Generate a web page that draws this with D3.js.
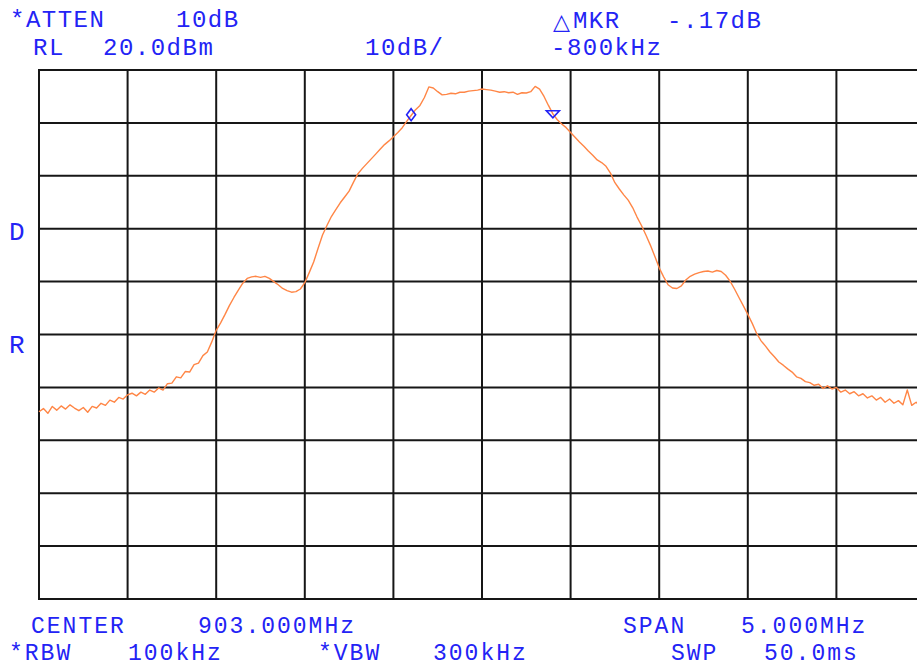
<!DOCTYPE html>
<html>
<head>
<meta charset="utf-8">
<script src="https://cdn.jsdelivr.net/npm/d3@7"></script>
<style>
  html, body { margin: 0; padding: 0; background: #fff; }
  svg { display: block; }
  .ann { font-family: "Liberation Mono", "DejaVu Sans Mono", monospace; font-size: 24px; letter-spacing: 1.5px; fill: #2323f5; }
  .side { font-size: 26px; }
  .foot { font-size: 23px; letter-spacing: 2px; }
  .sym { font-family: "DejaVu Sans", sans-serif; font-size: 22px; letter-spacing: 0; }
</style>
</head>
<body>
<script>
  // analyzer settings
  const centerMHz = 903.0;
  const spanKHz = 5000;
  const refLevel = 20;      // dBm, top graticule line
  const dbPerDiv = 10;
  const divisions = 10;

  // sweep: first bin and bin spacing (kHz from center)
  const sweepStartKHz = -2500;
  const sweepStepKHz = 25;

  // trace levels in dBm
  const traceDbm = [
    -44.6, -44.0, -44.9, -43.6, -44.3, -43.5, -44.1, -43.3, -43.9, -44.4,
    -43.8, -44.7, -43.6, -43.9, -43.0, -43.4, -42.4, -42.8, -41.9, -42.2,
    -41.4, -41.1, -41.6, -40.9, -41.3, -40.5, -40.9, -40.1, -40.5, -39.3,
    -39.2, -38.0, -38.2, -37.0, -37.1, -35.7, -35.4, -34.0, -33.3, -31.4,
    -29.2, -27.8, -26.2, -24.5, -23.0, -21.6, -20.3, -19.4, -19.1, -19.0,
    -19.2, -19.0, -19.4, -20.0, -20.6, -21.3, -21.7, -22.0, -21.9, -21.4,
    -20.2, -18.3, -16.3, -13.7, -11.2, -9.4, -7.7, -6.4, -5.1, -4.0,
    -2.9, -1.2, 0.4, 1.4, 2.3, 3.2, 4.1, 5.0, 5.9, 6.6,
    7.4, 8.2, 9.1, 10.3, 11.4, 12.5, 13.3, 14.8, 16.8, 16.6,
    15.9, 15.3, 15.4, 15.6, 15.5, 15.8, 15.8, 16.0, 16.1, 16.2,
    16.4, 16.3, 16.2, 16.0, 15.8, 15.9, 15.7, 15.8, 15.4, 15.7,
    15.65, 15.9, 16.9, 16.4, 15.0, 13.3, 11.7, 10.6, 9.8, 9.1,
    8.2, 7.3, 6.4, 5.6, 4.7, 3.9, 3.0, 2.5, 1.8, 0.5,
    -1.3, -2.5, -3.6, -4.6, -6.0, -7.8, -9.4, -11.2, -13.1, -15.2,
    -17.4, -19.1, -20.6, -21.2, -21.3, -20.8, -19.7, -19.0, -18.6, -18.3,
    -18.1, -18.0, -18.2, -17.9, -18.1, -18.8, -19.9, -21.4, -23.0, -24.6,
    -26.2, -27.9, -29.8, -31.2, -32.2, -33.3, -34.2, -35.2, -35.8, -36.5,
    -37.1, -38.0, -38.3, -38.9, -39.1, -39.6, -39.4, -40.2, -39.7, -40.3,
    -40.0, -40.9, -40.5, -41.2, -40.8, -41.6, -41.2, -42.0, -41.6, -42.4,
    -41.9, -42.8, -42.2, -43.0, -42.5, -43.3, -40.5, -43.4, -42.8, -43.6,
    -43.2
  ];

  // markers: diamond = active delta marker, triangle = reference
  const markerKHz = [-400, 400];
  const markerDbm = [11.55, 11.72];
  const markerShape = ['diamond', 'triangle'];

  // annotation texts
  const headerTexts = ['*ATTEN', '10dB', 'RL', '20.0dBm', '10dB/', '\u25B3MKR', '-.17dB', '-800kHz'];
  const sideTexts = ['D', 'R'];
  const footerTexts = ['CENTER', '903.000MHz', 'SPAN', '5.000MHz', '*RBW', '100kHz', '*VBW', '300kHz', 'SWP', '50.0ms'];

  const width = 917;
  const height = 667;
  const plot = { left: 39, top: 70, width: 886, height: 529 };

  const x = d3.scaleLinear()
    .domain([-spanKHz / 2, spanKHz / 2])
    .range([plot.left, plot.left + plot.width]);
  const y = d3.scaleLinear()
    .domain([refLevel - dbPerDiv * divisions, refLevel])
    .range([plot.top + plot.height, plot.top]);

  const svg = d3.select('body').append('svg')
    .attr('width', width)
    .attr('height', height);

  // graticule
  const grid = svg.append('g').attr('stroke', '#161616').attr('stroke-width', 2);
  grid.selectAll('line.v')
    .data(d3.range(divisions + 1).map((i) => -spanKHz / 2 + i * spanKHz / divisions))
    .enter().append('line')
    .attr('class', 'v')
    .attr('x1', (d) => x(d)).attr('x2', (d) => x(d))
    .attr('y1', y.range()[1]).attr('y2', y.range()[0]);
  grid.selectAll('line.h')
    .data(d3.range(divisions + 1).map((i) => refLevel - i * dbPerDiv))
    .enter().append('line')
    .attr('class', 'h')
    .attr('x1', x.range()[0] - 1).attr('x2', x.range()[1])
    .attr('y1', (d) => y(d)).attr('y2', (d) => y(d));

  // trace
  const line = d3.line()
    .x((d, i) => x(sweepStartKHz + i * sweepStepKHz))
    .y((d) => y(d));
  svg.append('path')
    .attr('d', line(traceDbm))
    .attr('fill', 'none')
    .attr('stroke', '#ff8646')
    .attr('stroke-width', 1.4)
    .attr('stroke-linejoin', 'round');

  // markers
  const mk = svg.append('g').attr('fill', 'none').attr('stroke', '#2323f5').attr('stroke-width', 1.6);
  markerKHz.forEach((f, i) => {
    const mx = x(f), my = y(markerDbm[i]);
    if (markerShape[i] === 'diamond') {
      mk.append('path').attr('d', `M${mx},${my - 6}L${mx + 4.5},${my}L${mx},${my + 6}L${mx - 4.5},${my}Z`);
    } else {
      mk.append('path').attr('d', `M${mx - 6.5},${my - 3}L${mx + 6.5},${my - 3}L${mx},${my + 4}Z`);
    }
  });

  // annotations
  const headerPos = [[10, 27], [176, 27], [33, 55], [103, 55], [365, 55], [553, 28], [667, 28], [551, 55]];
  const sidePos = [[9, 240], [9, 353]];
  const footerPos = [[31, 633], [198, 633], [623, 633], [741, 633], [9, 660], [128, 660], [318, 660], [433, 660], [671, 660], [764, 660]];

  const addTexts = (texts, pos, cls) => {
    const t = svg.append('g').selectAll('text')
      .data(texts)
      .enter().append('text')
      .attr('class', cls)
      .attr('x', (d, i) => pos[i][0])
      .attr('y', (d, i) => pos[i][1]);
    // the delta sign sits in its own tspan, drawn from a font that has it
    t.each(function (d) {
      const el = d3.select(this);
      if (d.startsWith('\u25B3')) {
        el.append('tspan').attr('class', 'sym').attr('dy', 1).text('\u25B3');
        el.append('tspan').attr('dy', -1).attr('dx', 3).text(d.slice(1));
      } else {
        el.text(d);
      }
    });
  };
  addTexts(headerTexts, headerPos, 'ann');
  addTexts(sideTexts, sidePos, 'ann side');
  addTexts(footerTexts, footerPos, 'ann foot');
</script>
</body>
</html>
